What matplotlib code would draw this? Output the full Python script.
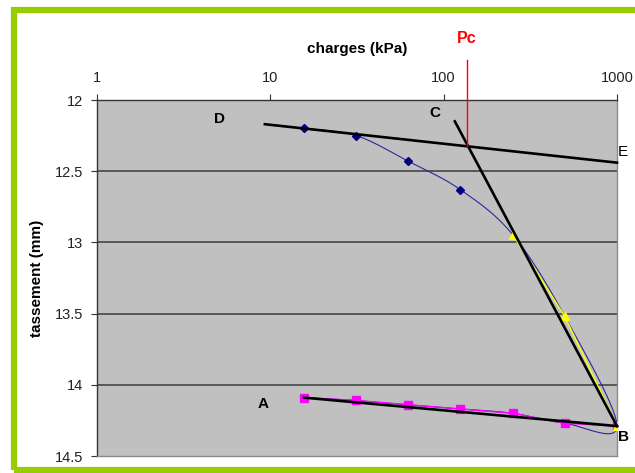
import numpy as np
import matplotlib
matplotlib.use("Agg")
import matplotlib.pyplot as plt
from matplotlib.patches import Rectangle

# ---- data ----
loads = [15.625, 31.25, 62.5, 125, 250, 500, 1000]
settle_load = [12.20, 12.25, 12.43, 12.63, 12.945, 13.52, 14.29]
unloads = [1000, 500, 250, 125, 62.5, 31.25, 15.625]
settle_unload = [14.29, 14.27, 14.20, 14.17, 14.14, 14.11, 14.09]
virgin_loads = [250, 500, 1000]
virgin_settle = [12.945, 13.52, 14.29]

line_DE_x = [9.3, 1000]
line_DE_y = [12.17, 12.44]
line_CB_x = [116, 1000]
line_CB_y = [12.15, 14.29]
line_AB_x = [15.625, 1000]
line_AB_y = [14.09, 14.29]
pc_value = 136
pc_y = [11.72, 12.325]

x_ticks = [1, 10, 100, 1000]
x_ticklabels = ["1", "10", "100", "1000"]
y_ticks = [12, 12.5, 13, 13.5, 14, 14.5]
y_ticklabels = ["12", "12.5", "13", "13.5", "14", "14.5"]

point_labels = ["D", "C", "E", "A", "B"]
point_label_x = [5.06, 89, 1075, 9.08, 1090]
point_label_y = [12.13, 12.09, 12.365, 14.135, 14.37]
point_label_bold = [True, True, False, True, True]


def catmull_rom(xs, ys, n=30):
    u = np.log10(np.asarray(xs, float))
    v = np.asarray(ys, float)
    P = np.column_stack([u, v])
    P = np.vstack([P[0], P, P[-1]])
    out = []
    for i in range(1, len(P) - 2):
        p0, p1, p2, p3 = P[i - 1], P[i], P[i + 1], P[i + 2]
        c1 = p1 + (p2 - p0) / 6.0
        c2 = p2 - (p3 - p1) / 6.0
        t = np.linspace(0, 1, n)[:, None]
        b = ((1 - t) ** 3) * p1 + 3 * ((1 - t) ** 2) * t * c1 + 3 * (1 - t) * t ** 2 * c2 + t ** 3 * p2
        out.append(b if i == 1 else b[1:])
    out = np.vstack(out)
    return 10 ** out[:, 0], out[:, 1]


plt.rcParams['font.family'] = ['Liberation Sans', 'DejaVu Sans']

fig = plt.figure(figsize=(6.35, 4.73), dpi=100)
fig.patch.set_facecolor('white')

# green frame
fig.patches.append(Rectangle((13.5 / 635, 3.5 / 473), 700 / 635, (463 - 3.5) / 473,
                             transform=fig.transFigure, fill=False,
                             edgecolor='#99CC00', linewidth=4.5, zorder=0))

ax = fig.add_axes([97 / 635, 1 - 456 / 473, 520 / 635, 356 / 473])
ax.set_facecolor('#C0C0C0')
ax.set_xscale('log')
ax.set_xlim(1, 1000)
ax.set_ylim(14.5, 12)

for yv in y_ticks[1:-1]:
    ax.axhline(yv, color='#3a3a3a', linewidth=1.1, zorder=1)

# blue smooth curve (loading + unloading)
bx, by = catmull_rom(loads + unloads[1:], settle_load + settle_unload[1:])
ax.plot(bx, by, color='#2a2a9a', linewidth=0.8, zorder=3)
ax.plot(loads[:4], settle_load[:4], linestyle='none', marker='D', markersize=4.5,
        color='#000080', zorder=4)

# magenta unloading
ax.plot(unloads, settle_unload, color='#FF00FF', linewidth=1.0, marker='s',
        markersize=5.5, zorder=4)

# yellow virgin branch
ax.plot(virgin_loads, virgin_settle, color='#FFFF00', linewidth=1.0, marker='^',
        markersize=5.5, zorder=5)

# construction lines
ax.plot(line_DE_x, line_DE_y, color='black', linewidth=1.9, zorder=6, clip_on=False)
ax.plot(line_CB_x, line_CB_y, color='black', linewidth=1.9, zorder=6, clip_on=False)
ax.plot(line_AB_x, line_AB_y, color='black', linewidth=1.9, zorder=6, clip_on=False)
ax.plot([pc_value, pc_value], pc_y, color='#FF0000', linewidth=1.0, zorder=7, clip_on=False)
ax.text(pc_value, 11.565, "Pc", color='#FF0000', fontsize=11.5, fontweight='bold',
        ha='center', va='center')

for lab, lx, ly, bold in zip(point_labels, point_label_x, point_label_y, point_label_bold):
    ax.text(lx, ly, lab, fontsize=11, fontweight='bold' if bold else 'normal',
            ha='center', va='center', color='black', clip_on=False, zorder=8)

ax.xaxis.set_ticks_position('top')
ax.xaxis.set_label_position('top')
ax.set_xticks(x_ticks)
ax.set_xticklabels(x_ticklabels)
ax.xaxis.set_minor_locator(matplotlib.ticker.NullLocator())
ax.set_yticks(y_ticks)
ax.set_yticklabels(y_ticklabels)
ax.tick_params(axis='both', direction='out', length=4, width=0.8, colors='#333333',
               labelsize=10.5, labelcolor='#222222')
ax.tick_params(axis='x', pad=7)
ax.tick_params(axis='y', pad=6)

ax.set_xlabel("charges (kPa)", fontsize=11, fontweight='bold', labelpad=13)
ax.set_ylabel("tassement (mm)", fontsize=11, fontweight='bold', labelpad=8)

ax.spines['left'].set_color('#333333')
ax.spines['top'].set_color('#333333')
ax.spines['right'].set_color('#8a8a8a')
ax.spines['bottom'].set_color('#8a8a8a')
for s in ax.spines.values():
    s.set_linewidth(1.0)

fig.savefig('out.png', dpi=100)
